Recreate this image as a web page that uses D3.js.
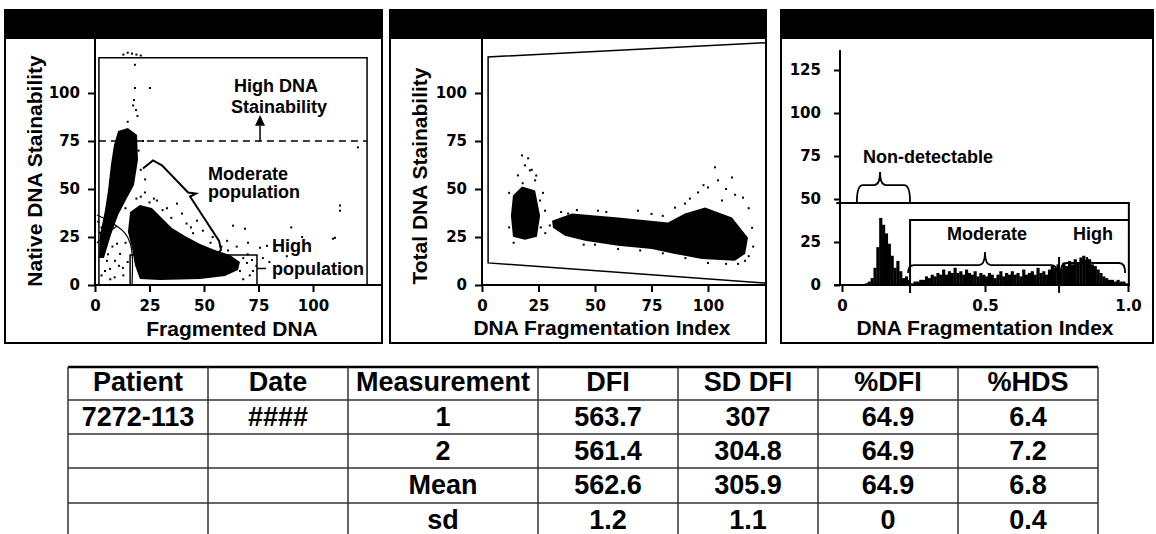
<!DOCTYPE html>
<html>
<head>
<meta charset="utf-8">
<script src="https://cdn.jsdelivr.net/npm/d3@7"></script>
<style>
  body { margin: 0; background: #fff; }
  svg text { font-family: "Liberation Sans", Arial, sans-serif; font-weight: bold; fill: #000; }
  .tick text { font-family: "DejaVu Sans", sans-serif; font-size: 15px; font-weight: bold; }
</style>
</head>
<body>
<div id="chart"></div>
<script>
// ---- data ----
var scatterTicks = [0, 25, 50, 75, 100];
var histYTicks = [0, 25, 50, 75, 100, 125];
var histXTicks = [0, 0.5, 1.0];

// panel 1: Native DNA stainability vs fragmented DNA (dense regions + stray events)
var p1Vertical = [[10.6,80.2],[15.1,81.8],[19.3,78.1],[19.7,65.1],[17.9,52.1],[14.2,44.3],[10.6,36.5],
  [7.3,26.0],[4.1,14.1],[1.8,14.1],[2.3,26.0],[4.6,39.1],[6.0,49.5],[7.3,62.5],[8.7,72.9]];
var p1Main = [[16.1,38.0],[20.6,41.7],[26.1,40.1],[30.7,34.9],[35.3,29.7],[41.3,25.5],[48.2,21.4],
  [55.0,18.2],[61.9,15.6],[66.5,12.0],[65.6,7.8],[59.6,4.7],[48.2,3.1],[29.8,2.6],[20.6,3.1],
  [18.3,10.4],[17.0,19.3],[15.1,27.6]];
var p1Dots = [[13,120],[15,121],[17,120.5],[19,120],[21,119.5],[18.3,114.7],[18.3,102.6],[25.2,102.6],
  [17.9,96.3],[18.8,91.1],[17.5,93.5],[19.5,88],[120.6,71.7],[112.4,41.4],[110.1,24.6],
  [63.3,30.9],[68.8,29.3],[60.6,23.0],[70.2,22.0],[49.5,28.3],[46.8,33.5],[39.9,37.2],[37.6,42.4],
  [28.4,44.0],[22.9,48.2],[63.3,8.9],[66.5,7.3],[69.7,11.5],[72.5,7.3],[75.7,19.4],[78.9,20.4],
  [83.5,17.8],[109.2,24.1],[112.4,38.7],[2.3,27.2],[3.7,19.4],[5.5,12.6],[6.9,8.4],[9.2,12.6],
  [11.5,16.2],[10.1,21.5],[4.6,7.3],[12.8,8.9],[20.6,11.0],[68,14],[70,16],[72,13],[61,18],[58,20],
  [53,22],[44,30],[35,35],[31,39],[25,43],[21,46],[27,45],[33,40],[54,25],[65,20],[74,10],[71,5],
  [68,3],[45,27],[42,32],[14,40],[12,42],[19,45],[23,55],[21,60],[20,70],[22,75],[15,85],[3,30],
  [5,25],[8,20],[13,5],[15,12],[7,3],[3,5],[6,16],[1.5,33],[11,10],[9,4],[14,22],[77,14],[80,12],
  [84,10],[88,15],[95,25],[90,30]];

// panel 2: Total DNA stainability vs DNA fragmentation index
var p2Left = [[13.7,46.6],[17.7,51.3],[23.5,49.2],[25.7,36.1],[24.3,25.1],[19.0,23.6],[13.7,25.1],[12.8,36.1]];
var p2Band = [[31.0,33.5],[39.8,37.2],[60.2,35.1],[82.3,32.5],[89.8,37.2],[98.7,40.3],[110.6,35.1],
  [117.7,24.6],[116.4,16.2],[111.9,12.6],[97.3,13.6],[85.4,16.2],[75.2,18.8],[60.2,20.4],[45.6,23.0],
  [36.7,25.7],[31.4,29.8]];
var p2Dots = [[19.0,62.3],[21.2,59.7],[15.9,57.1],[23.5,54.5],[20.4,66.0],[17.7,67.5],[25.7,44.0],
  [27.9,38.7],[22,60],[24,57],[18,53],[103.1,61.3],[104.4,54.5],[110.6,56.0],[100,50.8],[115.5,45.5],
  [106.2,44.0],[95.6,48.2],[89.8,42.4],[119.5,29.8],[85.4,40.3],[69.0,38.7],[51.3,38.7],[38.1,37.2],
  [116.4,12.6],[113.3,11.0],[60.2,18.8],[45,21],[30,31],[28,27],[35,38],[42,39],[55,38],[75,37],
  [80,36],[92,45],[98,52],[108,50],[112,47],[118,40],[120,20],[118,15],[108,11],[100,11.5],[90,14],
  [80,16.5],[70,18],[50,21],[14,22],[12,30],[26,30],[27,48],[12,48]];

// panel 3: DFI histogram, 100 bins of 0.01
var histCounts = [0,0,0,0,0,0,0,0,1,2, 4,10,22,39,35,30,24,17,10,14,
  8,4,5,3,1,2,2,3,3,5, 4,6,5,7,6,9,6,8,7,10, 7,8,6,9,7,6,8,5,7,6,
  5,7,6,4,6,8,5,7,6,8, 6,7,5,9,6,7,8,6,10,7, 8,6,9,11,10,12,9,13,11,14,
  12,15,13,16,17,14,15,12,11,9, 7,5,4,3,3,2,3,2,2,1];

// table
var tableHeaders = ["Patient", "Date", "Measurement", "DFI", "SD DFI", "%DFI", "%HDS"];
var patientCol = ["7272-113", "", "", ""];
var dateCol = ["####", "", "", ""];
var measurementCol = ["1", "2", "Mean", "sd"];
var dfiCol = ["563.7", "561.4", "562.6", "1.2"];
var sdDfiCol = ["307", "304.8", "305.9", "1.1"];
var pctDfiCol = ["64.9", "64.9", "64.9", "0"];
var pctHdsCol = ["6.4", "7.2", "6.8", "0.4"];

// ---- drawing ----
var svg = d3.select("#chart").append("svg")
    .attr("width", 1156)
    .attr("height", 534);

function panelFrame(x0, x1) {
    svg.append("rect")
        .attr("x", x0).attr("y", 10)
        .attr("width", x1 - x0).attr("height", 333)
        .attr("fill", "none").attr("stroke", "#000").attr("stroke-width", 2);
    svg.append("rect")
        .attr("x", x0).attr("y", 10)
        .attr("width", x1 - x0).attr("height", 29)
        .attr("fill", "#000");
}

function styleAxis(g) {
    g.select(".domain").remove();
    g.selectAll(".tick line").attr("stroke-width", 2);
}

function vline(x, ya, yb) {
    svg.append("line").attr("x1", x).attr("x2", x).attr("y1", ya).attr("y2", yb)
        .attr("stroke", "#000").attr("stroke-width", 2);
}
function hline(y, xa, xb) {
    svg.append("line").attr("x1", xa).attr("x2", xb).attr("y1", y).attr("y2", y)
        .attr("stroke", "#000").attr("stroke-width", 2);
}

function braceArc(xa, xb, xm, yEnd, ySh, yPk) {
    var r = 6;
    var p = d3.path();
    p.moveTo(xa, yEnd);
    p.quadraticCurveTo(xa, ySh, xa + r, ySh);
    p.lineTo(xm - r, ySh);
    p.quadraticCurveTo(xm, ySh, xm, yPk);
    p.quadraticCurveTo(xm, ySh, xm + r, ySh);
    p.lineTo(xb - r, ySh);
    p.quadraticCurveTo(xb, ySh, xb, yEnd);
    return p.toString();
}

function label(x, y, txt, size, anchor) {
    return svg.append("text").attr("x", x).attr("y", y)
        .attr("text-anchor", anchor || "start")
        .style("font-size", size + "px").text(txt);
}

// ===== Panel 1 =====
panelFrame(5, 382);
var x1 = d3.scaleLinear().domain([0, 100]).range([95, 313]);
var y1 = d3.scaleLinear().domain([0, 100]).range([285, 93]);
var line1 = d3.line().x(function (d) { return x1(d[0]); }).y(function (d) { return y1(d[1]); });
var blob1 = d3.line().curve(d3.curveLinearClosed)
    .x(function (d) { return x1(d[0]); }).y(function (d) { return y1(d[1]); });

vline(95, 39, 286);
hline(285, 95, 382);

svg.append("g").attr("transform", "translate(95,0)")
    .call(d3.axisLeft(y1).tickValues(scatterTicks).tickSize(7).tickPadding(8))
    .call(styleAxis);
svg.append("g").attr("transform", "translate(0,285)")
    .call(d3.axisBottom(x1).tickValues(scatterTicks).tickSize(7).tickPadding(8))
    .call(styleAxis);

// gate rectangle + HDS threshold
svg.append("path")
    .attr("d", line1([[1.8, 0], [1.8, 118.3], [124.8, 118.3], [124.8, 0]]))
    .attr("fill", "none").attr("stroke", "#000").attr("stroke-width", 1.5);
svg.append("path")
    .attr("d", line1([[1.8, 75], [124.8, 75]]))
    .attr("fill", "none").attr("stroke", "#000").attr("stroke-width", 1.5)
    .attr("stroke-dasharray", "7,5");

// clouds
svg.append("path").attr("d", blob1(p1Vertical)).attr("fill", "#000");
svg.append("path").attr("d", blob1(p1Main)).attr("fill", "#000");
svg.append("g").selectAll("rect").data(p1Dots).enter().append("rect")
    .attr("x", function (d) { return x1(d[0]) - 1; })
    .attr("y", function (d) { return y1(d[1]) - 1; })
    .attr("width", 2).attr("height", 2).attr("fill", "#000");

// debris curves and high-DFI gate
var curveLine1 = d3.line().curve(d3.curveBasis)
    .x(function (d) { return x1(d[0]); }).y(function (d) { return y1(d[1]); });
svg.append("path").attr("d", curveLine1([[0.9, 36.5], [5.5, 34.0], [10.1, 30.7], [13.8, 27.6], [16.5, 21.9], [17.4, 14.6], [17.0, 0]]))
    .attr("fill", "none").attr("stroke", "#000").attr("stroke-width", 1.2);
svg.append("path").attr("d", curveLine1([[0.9, 21.9], [5.5, 27.0], [10.1, 30.7]]))
    .attr("fill", "none").attr("stroke", "#000").attr("stroke-width", 1.2);
svg.append("path").attr("d", line1([[16.1, 0], [16.1, 15.6], [74.3, 15.6], [74.3, 0]]))
    .attr("fill", "none").attr("stroke", "#000").attr("stroke-width", 1.5);
svg.append("path").attr("d", line1([[74.3, 8.6], [78.5, 8.6]]))
    .attr("fill", "none").attr("stroke", "#000").attr("stroke-width", 1.5);

// moderate brace (diagonal)
svg.append("path").attr("d", line1([[22.0, 60.7], [26.6, 64.9], [30.7, 62.3], [42.7, 48.2], [46.3, 47.6],
        [43.6, 46.1], [56.9, 23.0], [57.8, 18.3], [56.0, 16.2]]))
    .attr("fill", "none").attr("stroke", "#000").attr("stroke-width", 2);

// arrow for high DNA stainability
svg.append("line").attr("x1", x1(75.7)).attr("x2", x1(75.7)).attr("y1", y1(75)).attr("y2", y1(83))
    .attr("stroke", "#000").attr("stroke-width", 1.5);
svg.append("path").attr("d", d3.line()([[x1(75.7) - 5, y1(83)], [x1(75.7) + 5, y1(83)], [x1(75.7), y1(88.5)]]) + "Z")
    .attr("fill", "#000");

label(276, 92, "High DNA", 18, "middle");
label(279, 113, "Stainability", 18, "middle");
label(208, 180, "Moderate", 18);
label(208, 198, "population", 18);
label(272, 252, "High", 18);
label(272, 275, "population", 18);

label(232, 336, "Fragmented DNA", 21, "middle");
label(42, 171, "Native DNA Stainability", 21, "middle")
    .attr("transform", "rotate(-90,42,171)");

// ===== Panel 2 =====
panelFrame(390, 766);
var x2 = d3.scaleLinear().domain([0, 100]).range([482, 708]);
var y2 = d3.scaleLinear().domain([0, 100]).range([285, 93]);
var line2 = d3.line().x(function (d) { return x2(d[0]); }).y(function (d) { return y2(d[1]); });
var blob2 = d3.line().curve(d3.curveLinearClosed)
    .x(function (d) { return x2(d[0]); }).y(function (d) { return y2(d[1]); });

vline(482, 39, 286);
hline(285, 482, 766);
svg.append("g").attr("transform", "translate(482,0)")
    .call(d3.axisLeft(y2).tickValues(scatterTicks).tickSize(7).tickPadding(8))
    .call(styleAxis);
svg.append("g").attr("transform", "translate(0,285)")
    .call(d3.axisBottom(x2).tickValues(scatterTicks).tickSize(7).tickPadding(8))
    .call(styleAxis);

svg.append("path")
    .attr("d", line2([[125.7, 126.2], [2.7, 118.8], [2.7, 11.5], [125.7, 1.0]]))
    .attr("fill", "none").attr("stroke", "#000").attr("stroke-width", 1.5);

svg.append("path").attr("d", blob2(p2Left)).attr("fill", "#000");
svg.append("path").attr("d", blob2(p2Band)).attr("fill", "#000");
svg.append("g").selectAll("rect").data(p2Dots).enter().append("rect")
    .attr("x", function (d) { return x2(d[0]) - 1; })
    .attr("y", function (d) { return y2(d[1]) - 1; })
    .attr("width", 2).attr("height", 2).attr("fill", "#000");

label(602, 335, "DNA Fragmentation Index", 21, "middle");
label(427, 176, "Total DNA Stainability", 21, "middle")
    .attr("transform", "rotate(-90,427,176)");

// ===== Panel 3 =====
panelFrame(781, 1153);
var x3 = d3.scaleLinear().domain([0, 1]).range([842, 1128]);
var y3 = d3.scaleLinear().domain([0, 125]).range([285, 70]);
var line3 = d3.line().x(function (d) { return x3(d[0]); }).y(function (d) { return y3(d[1]); });

svg.append("g").selectAll("rect").data(histCounts).enter().append("rect")
    .attr("x", function (d, i) { return x3(i * 0.01); })
    .attr("y", function (d) { return y3(d); })
    .attr("width", x3(0.01) - x3(0) + 0.3)
    .attr("height", function (d) { return y3(0) - y3(d); })
    .attr("fill", "#000");

vline(840, 50, 286);
hline(285, 834, 1130);
svg.append("g").attr("transform", "translate(840,0)")
    .call(d3.axisLeft(y3).tickValues(histYTicks).tickSize(6).tickPadding(13))
    .call(styleAxis);
svg.append("g").attr("transform", "translate(0,285)")
    .call(d3.axisBottom(x3).tickValues(histXTicks).tickSize(7).tickPadding(8)
        .tickFormat(function (d) { return d === 0 ? "0" : d.toFixed(1); }))
    .call(styleAxis);

// gates
svg.append("path").attr("d", line3([[-0.02, 47.7], [1.003, 47.7], [1.003, 0]]))
    .attr("fill", "none").attr("stroke", "#000").attr("stroke-width", 2);
svg.append("path").attr("d", line3([[0.238, -4.6], [0.238, 37.8], [1.003, 37.8]]))
    .attr("fill", "none").attr("stroke", "#000").attr("stroke-width", 2);
svg.append("path").attr("d", line3([[0.759, -4.6], [0.759, 16.3]]))
    .attr("fill", "none").attr("stroke", "#000").attr("stroke-width", 2);

// braces
var braces3 = [
    [0.052, 0.238, 0.133, 48.3, 58.1, 65.7],
    [0.231, 0.752, 0.500, 7.0, 11.6, 19.2],
    [0.765, 0.990, 0.857, 7.0, 12.8, 16.3]
];
braces3.forEach(function (b) {
    svg.append("path")
        .attr("d", braceArc(x3(b[0]), x3(b[1]), x3(b[2]), y3(b[3]), y3(b[4]), y3(b[5])))
        .attr("fill", "none").attr("stroke", "#000").attr("stroke-width", 1.8);
});

label(863, 163, "Non-detectable", 18);
label(947, 240, "Moderate", 18);
label(1073, 240, "High", 18);
label(985, 335, "DNA Fragmentation Index", 21, "middle");

// ===== Table =====
var colEdges = [68, 208, 348, 538, 678, 818, 958, 1098];
var rowEdges = [367, 400, 434, 468, 503, 537];
var tableCols = [patientCol, dateCol, measurementCol, dfiCol, sdDfiCol, pctDfiCol, pctHdsCol];

var table = svg.append("g");
rowEdges.forEach(function (y, i) {
    table.append("line").attr("x1", colEdges[0]).attr("x2", colEdges[colEdges.length - 1])
        .attr("y1", y).attr("y2", y)
        .attr("stroke", i === 0 ? "#000" : "#333").attr("stroke-width", i === 0 ? 2.5 : 1.5);
});
colEdges.forEach(function (x) {
    table.append("line").attr("x1", x).attr("x2", x)
        .attr("y1", rowEdges[0]).attr("y2", 534)
        .attr("stroke", "#333").attr("stroke-width", 1.5);
});
tableHeaders.forEach(function (h, c) {
    table.append("text")
        .attr("x", (colEdges[c] + colEdges[c + 1]) / 2)
        .attr("y", rowEdges[0] + 24)
        .attr("text-anchor", "middle")
        .style("font-size", "27px")
        .text(h);
    tableCols[c].forEach(function (v, r) {
        table.append("text")
            .attr("x", (colEdges[c] + colEdges[c + 1]) / 2)
            .attr("y", rowEdges[r + 1] + 26)
            .attr("text-anchor", "middle")
            .style("font-size", "27px")
            .text(v);
    });
});
</script>
</body>
</html>
